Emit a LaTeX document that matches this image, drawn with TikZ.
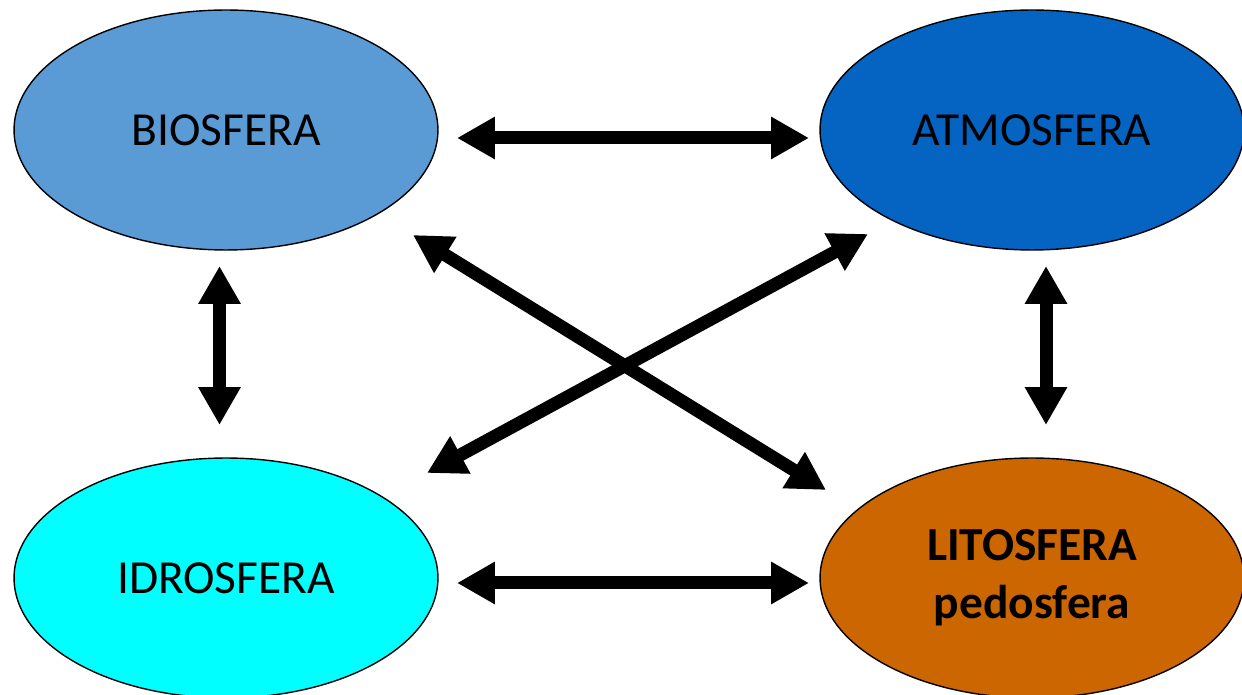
\documentclass[tikz,border=0pt]{standalone}
\usepackage{fontspec}
\setmainfont{Carlito}
\usetikzlibrary{arrows.meta,shapes.geometric}
\definecolor{bioblue}{HTML}{5B9BD5}
\definecolor{atmblue}{HTML}{0563C1}
\definecolor{idrocyan}{HTML}{00FFFF}
\definecolor{litobrown}{HTML}{CC6600}
\tikzset{
  sfera/.style={ellipse,draw=black,line width=0.8pt,minimum width=8.48cm,
    minimum height=4.8cm,inner sep=0pt,outer sep=0pt,align=center,
    font=\fontsize{27}{33}\selectfont},
  link/.style={line width=0.26cm,
    {Triangle[length=0.76cm,width=0.8cm]}-{Triangle[length=0.76cm,width=0.8cm]}}
}
\begin{document}
\begin{tikzpicture}[x=0.02cm,y=-0.02cm]
   \useasboundingbox (0,0) rectangle (1242,695);
   % the four spheres
   \node[sfera,fill=bioblue] (bio) at (226,130) {BIOSFERA};
   \node[sfera,fill=atmblue] (atm) at (1032,130) {ATMOSFERA};
   \node[sfera,fill=idrocyan] (idro) at (226,578) {IDROSFERA};
   \node[sfera,fill=litobrown,font=\fontsize{27}{33}\selectfont\bfseries] (lito) at (1032,578) {LITOSFERA\\pedosfera};
   % exchanges
   \draw[link] ([shift={(231,8)}]bio.center) -- ([shift={(-223,8)}]atm.center);
   \draw[link] ([shift={(231,5)}]idro.center) -- ([shift={(-223,5)}]lito.center);
   \draw[link] ([shift={(-6.5,136)}]bio.center) -- ([shift={(-6.5,-153)}]idro.center);
   \draw[link] ([shift={(14,136)}]atm.center) -- ([shift={(14,-153)}]lito.center);
   \draw[link] ([shift={(187,105)}]bio.center) -- ([shift={(-206,-88)}]lito.center);
   \draw[link] ([shift={(-164,104)}]atm.center) -- ([shift={(201,-105)}]idro.center);
\end{tikzpicture}
\end{document}
